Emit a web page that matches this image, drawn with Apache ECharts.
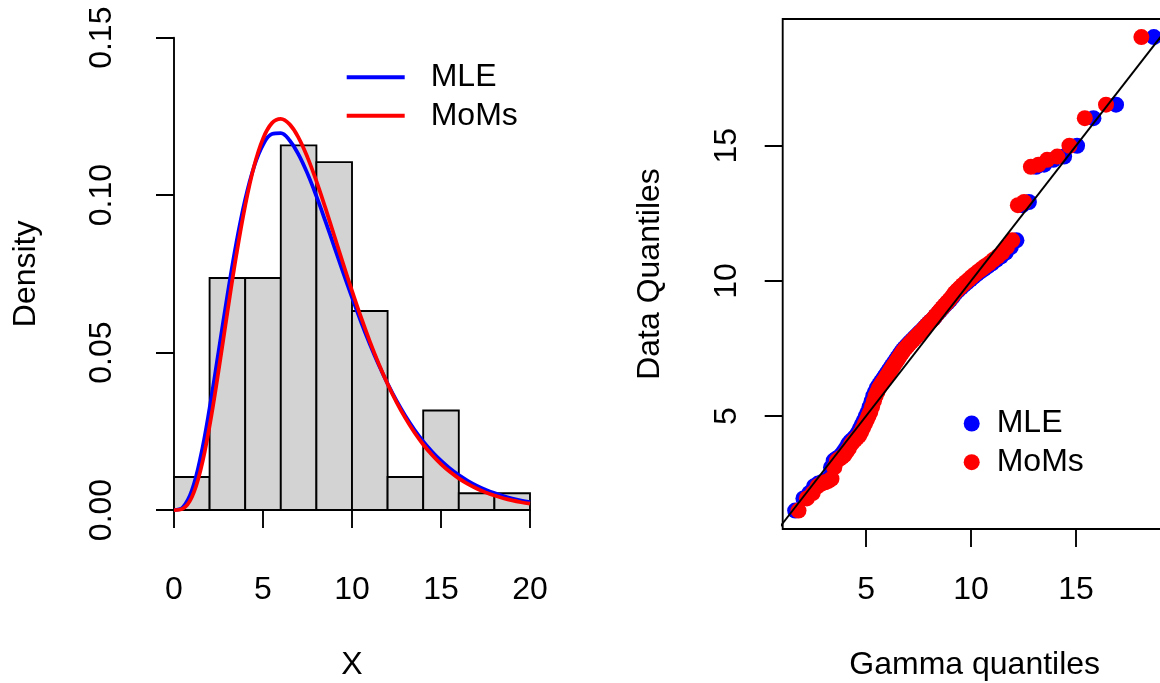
<!DOCTYPE html>
<html><head><meta charset="utf-8">
<script src="https://cdn.jsdelivr.net/npm/echarts@6/dist/echarts.min.js"></script>
<style>html,body{margin:0;padding:0;background:#fff}#c{width:1160px;height:683px}</style>
</head><body><div id="c"></div>
<script>
// ---------- data ----------
const binEdges = [0, 2, 4, 6, 8, 10, 12, 14, 16, 18, 20];
const binDensity = [0.0105, 0.0737, 0.0737, 0.1158, 0.1105, 0.0632, 0.0105, 0.0316, 0.0053, 0.0053];

const curveX = [0,0.5,1,1.5,2,2.5,3,3.5,4,4.5,5,5.5,6,6.5,7,7.5,8,8.5,9,9.5,10,10.5,11,11.5,12,12.5,13,13.5,14,14.5,15,15.5,16,16.5,17,17.5,18,18.5,19,19.5,20];
const mleDensity = [0,0.00088,0.00612,0.01699,0.03237,0.05015,0.06821,0.08477,0.09862,0.10910,0.11598,0.11940,0.11970,0.11735,0.11289,0.10683,0.09967,0.09183,0.08367,0.07548,0.06751,0.05988,0.05273,0.04613,0.04012,0.03469,0.02985,0.02556,0.02179,0.01850,0.01565,0.01319,0.01108,0.00928,0.00775,0.00645,0.00536,0.00444,0.00367,0.00302,0.00249];
const momDensity = [0,0.00045,0.00403,0.01283,0.02672,0.04410,0.06283,0.08089,0.09669,0.10921,0.11795,0.12287,0.12422,0.12247,0.11820,0.11200,0.10443,0.09601,0.08718,0.07828,0.06959,0.06131,0.05358,0.04647,0.04004,0.03428,0.02918,0.02470,0.02081,0.01746,0.01458,0.01212,0.01005,0.00829,0.00683,0.00560,0.00458,0.00374,0.00304,0.00247,0.00200];

const dataQuantiles = [1.50,1.95,2.15,2.40,2.50,2.55,2.60,2.68,3.10,3.35,
 3.42,3.48,3.55,3.68,3.80,3.95,4.05,4.12,4.20,4.28,
 4.40,4.55,4.70,4.85,5.00,5.15,5.35,5.55,5.75,5.90,
 6.05,6.15,6.25,6.35,6.45,6.55,6.65,6.75,6.85,6.95,
 7.05,7.15,7.25,7.35,7.45,7.52,7.60,7.68,7.75,7.82,
 7.90,7.97,8.05,8.12,8.20,8.28,8.36,8.45,8.52,8.60,
 8.70,8.80,8.90,9.00,9.10,9.20,9.30,9.42,9.55,9.65,
 9.75,9.85,9.95,10.05,10.15,10.25,10.35,10.45,10.55,10.65,
 10.78,10.90,11.05,11.25,11.50,12.80,12.92,14.22,14.30,14.48,
 14.60,15.00,16.02,16.52,19.02];
const mleQuantiles = [1.623,2.016,2.294,2.520,2.715,2.889,3.047,3.193,3.330,3.460,
 3.582,3.702,3.816,3.927,4.033,4.139,4.241,4.340,4.438,4.534,
 4.629,4.721,4.813,4.907,4.996,5.086,5.175,5.262,5.349,5.438,
 5.524,5.612,5.700,5.786,5.873,5.958,6.047,6.133,6.220,6.308,
 6.394,6.483,6.571,6.659,6.751,6.840,6.931,7.022,7.114,7.206,
 7.300,7.398,7.493,7.589,7.689,7.787,7.889,7.993,8.097,8.206,
 8.311,8.422,8.534,8.651,8.768,8.887,9.011,9.136,9.263,9.395,
 9.532,9.671,9.820,9.970,10.122,10.285,10.454,10.629,10.811,11.004,
 11.210,11.423,11.653,11.897,12.164,12.445,12.757,13.100,13.483,13.922,
 14.434,15.051,15.831,16.907,18.706];
const momQuantiles = [1.783,2.181,2.460,2.686,2.880,3.052,3.209,3.353,3.488,3.616,
 3.736,3.854,3.966,4.075,4.179,4.282,4.382,4.478,4.574,4.668,
 4.760,4.849,4.939,5.030,5.117,5.204,5.290,5.374,5.459,5.545,
 5.629,5.713,5.799,5.882,5.966,6.048,6.133,6.217,6.301,6.386,
 6.468,6.555,6.638,6.723,6.811,6.898,6.984,7.072,7.160,7.249,
 7.339,7.433,7.524,7.616,7.712,7.805,7.903,8.002,8.101,8.205,
 8.307,8.412,8.519,8.630,8.743,8.856,8.974,9.094,9.214,9.340,
 9.470,9.603,9.744,9.887,10.031,10.185,10.346,10.512,10.685,10.868,
 11.063,11.264,11.482,11.712,11.965,12.231,12.525,12.850,13.210,13.625,
 14.106,14.687,15.419,16.429,18.114];

const refLineEnds = [0, 25];
const rightXTicks = [5, 10, 15];
const rightYTicks = [5, 10, 15];
const seriesNames = ['MLE', 'MoMs'];

// ---------- style ----------
const FONT = "'Liberation Sans', Arial, Helvetica, sans-serif";
const FS = 32;
const LW = 1.875;
const BLUE = '#0000FF', RED = '#FF0000';
const axisLineStyle = { color: '#000', width: LW };
const txt = { fontSize: FS, color: '#000', fontFamily: FONT };

const chart = echarts.init(document.getElementById('c'), null, { renderer: 'canvas' });

const option = {
  animation: false,
  backgroundColor: '#fff',
  textStyle: { fontFamily: FONT },
  grid: [
    { left: 174, top: 37.7, width: 356, height: 472.3, containLabel: false, outerBoundsMode: 'none' },
    { left: 782.7, top: 19, width: 384, height: 510, containLabel: false, outerBoundsMode: 'none',
      show: true, borderColor: '#000', borderWidth: LW, backgroundColor: 'transparent' }
  ],
  xAxis: [
    { gridIndex: 0, type: 'value', min: 0, max: 20, interval: 5, offset: 19,
      axisLine: { show: true, lineStyle: axisLineStyle },
      axisTick: { show: true, length: 18, lineStyle: axisLineStyle },
      axisLabel: Object.assign({ margin: 45 }, txt),
      splitLine: { show: false },
      name: 'X', nameLocation: 'middle', nameGap: 120, nameTextStyle: txt },
    { gridIndex: 1, type: 'value', min: 1.03, max: 19.32,
      axisLine: { show: false },
      axisTick: { show: true, length: 18, lineStyle: axisLineStyle, customValues: rightXTicks },
      axisLabel: Object.assign({ margin: 45, customValues: rightXTicks }, txt),
      splitLine: { show: false },
      name: 'Gamma quantiles', nameLocation: 'middle', nameGap: 120, nameTextStyle: txt }
  ],
  yAxis: [
    { gridIndex: 0, type: 'value', min: 0, max: 0.15, interval: 0.05, offset: 14,
      axisLine: { show: true, lineStyle: axisLineStyle },
      axisTick: { show: true, length: 18, lineStyle: axisLineStyle },
      axisLabel: Object.assign({ margin: 42, rotate: 90, formatter: v => v.toFixed(2) }, txt),
      splitLine: { show: false },
      name: 'Density', nameLocation: 'middle', nameGap: 118, nameRotate: 90, nameTextStyle: txt },
    { gridIndex: 1, type: 'value', min: 0.82, max: 19.69,
      axisLine: { show: false },
      axisTick: { show: true, length: 18, lineStyle: axisLineStyle, customValues: rightYTicks },
      axisLabel: Object.assign({ margin: 40, rotate: 90, customValues: rightYTicks }, txt),
      splitLine: { show: false },
      name: 'Data Quantiles', nameLocation: 'middle', nameGap: 117, nameRotate: 90, nameTextStyle: txt }
  ],
  legend: [
    { orient: 'vertical', left: 341.7, top: 56.3, itemWidth: 58, itemHeight: 4, itemGap: 6.4,
      selectedMode: false,
      data: seriesNames.map(n => ({ name: n, icon: 'rect' })),
      textStyle: Object.assign({ lineHeight: FS, padding: [0, 0, 0, 21] }, txt) },
    { orient: 'vertical', left: 958.7, top: 402.5, itemWidth: 16, itemHeight: 16, itemGap: 6.7,
      selectedMode: false,
      data: seriesNames.map(n => ({ name: n, icon: 'circle' })),
      textStyle: Object.assign({ lineHeight: FS, padding: [0, 0, 0, 12] }, txt) }
  ],
  series: [
    { type: 'custom', xAxisIndex: 0, yAxisIndex: 0, clip: false,
      encode: { x: [0, 1], y: 2 },
      data: binDensity.map((d, i) => [binEdges[i], binEdges[i + 1], d]),
      renderItem: (params, api) => {
        const p0 = api.coord([api.value(0), 0]);
        const p1 = api.coord([api.value(1), api.value(2)]);
        return { type: 'rect',
          shape: { x: p0[0], y: p1[1], width: p1[0] - p0[0], height: p0[1] - p1[1] },
          style: { fill: '#D3D3D3', stroke: '#000', lineWidth: LW } };
      } },
    { name: 'MLE', type: 'line', xAxisIndex: 0, yAxisIndex: 0, showSymbol: false, smooth: 0.4, clip: false,
      color: BLUE, lineStyle: { color: BLUE, width: 3.75 },
      data: curveX.map((x, i) => [x, mleDensity[i]]) },
    { name: 'MoMs', type: 'line', xAxisIndex: 0, yAxisIndex: 0, showSymbol: false, smooth: 0.4, clip: false,
      color: RED, lineStyle: { color: RED, width: 3.75 },
      data: curveX.map((x, i) => [x, momDensity[i]]) },
    { name: 'MLE', type: 'scatter', xAxisIndex: 1, yAxisIndex: 1, symbolSize: 16, clip: false,
      itemStyle: { color: BLUE, opacity: 1 },
      data: dataQuantiles.map((y, i) => [mleQuantiles[i], y]) },
    { name: 'MoMs', type: 'scatter', xAxisIndex: 1, yAxisIndex: 1, symbolSize: 16, clip: false,
      itemStyle: { color: RED, opacity: 1 },
      data: dataQuantiles.map((y, i) => [momQuantiles[i], y]) },
    { type: 'line', xAxisIndex: 1, yAxisIndex: 1, showSymbol: false, clip: true, z: 5,
      lineStyle: { color: '#000', width: LW }, silent: true,
      data: refLineEnds.map(v => [v, v]) }
  ]
};
chart.setOption(option);
</script>
</body></html>
